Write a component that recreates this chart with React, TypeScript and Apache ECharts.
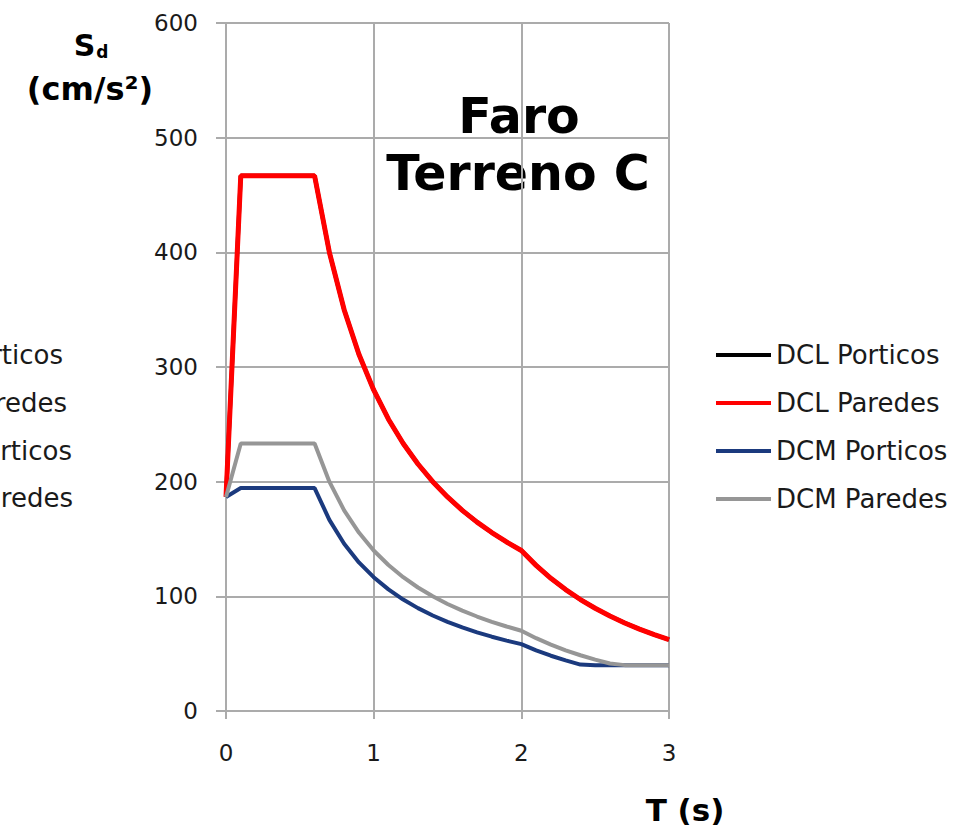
import React, { useEffect, useRef } from "react";
import * as echarts from "echarts";

// Period T (s)
const periods = [0, 0.1, 0.2, 0.3, 0.4, 0.5, 0.6, 0.7, 0.8, 0.9, 1.0, 1.1, 1.2, 1.3, 1.4, 1.5, 1.6, 1.7, 1.8, 1.9, 2.0, 2.1, 2.2, 2.3, 2.4, 2.5, 2.6, 2.7, 2.8, 2.9, 3.0];

// Sd (cm/s²)
const dclPorticos = [186.7, 466.7, 466.7, 466.7, 466.7, 466.7, 466.7, 400.0, 350.0, 311.1, 280.0, 254.5, 233.3, 215.4, 200.0, 186.7, 175.0, 164.7, 155.6, 147.4, 140.0, 127.0, 115.7, 105.9, 97.2, 89.6, 82.8, 76.8, 71.4, 66.6, 62.2];
const dclParedes = [186.7, 466.7, 466.7, 466.7, 466.7, 466.7, 466.7, 400.0, 350.0, 311.1, 280.0, 254.5, 233.3, 215.4, 200.0, 186.7, 175.0, 164.7, 155.6, 147.4, 140.0, 127.0, 115.7, 105.9, 97.2, 89.6, 82.8, 76.8, 71.4, 66.6, 62.2];
const dcmPorticos = [186.7, 194.4, 194.4, 194.4, 194.4, 194.4, 194.4, 166.7, 145.8, 129.6, 116.7, 106.1, 97.2, 89.7, 83.3, 77.8, 72.9, 68.6, 64.8, 61.4, 58.3, 52.9, 48.2, 44.1, 40.5, 40, 40, 40, 40, 40, 40];
const dcmParedes = [186.7, 233.3, 233.3, 233.3, 233.3, 233.3, 233.3, 200.0, 175.0, 155.6, 140.0, 127.3, 116.7, 107.7, 100.0, 93.3, 87.5, 82.4, 77.8, 73.7, 70.0, 63.5, 57.9, 52.9, 48.6, 44.8, 41.4, 40, 40, 40, 40];

const seriesNames = ["DCL Porticos", "DCL Paredes", "DCM Porticos", "DCM Paredes"];
const xTicks = [0, 1, 2, 3];
const yMax = 600;

const FONT = "'DejaVu Sans', Verdana, sans-serif";

export default function App() {
  const ref = useRef<HTMLDivElement>(null);

  useEffect(() => {
    if (!ref.current) return;
    const chart = echarts.init(ref.current, undefined, { renderer: "svg" });
    const pair = (vals: number[]) => periods.map((t, i) => [t, vals[i]]);
    const gridColor = "#ABABAB";
    const legendFont = 26;

    const cutText = (name: string, x: number, y: number) => ({
      type: "text",
      x,
      y,
      style: { text: name, textAlign: "right", textVerticalAlign: "middle", fontSize: legendFont, fontFamily: FONT, fill: "#1a1a1a" },
    });

    chart.setOption({
      animation: false,
      backgroundColor: "#ffffff",
      grid: { left: 226, right: 302, top: 23, bottom: 118, containLabel: false },
      xAxis: {
        type: "value",
        min: xTicks[0],
        max: xTicks[xTicks.length - 1],
        interval: 1,
        axisLine: { show: true, lineStyle: { color: gridColor, width: 2 } },
        axisTick: { show: true, length: 8, lineStyle: { color: gridColor, width: 2 } },
        splitLine: { show: true, lineStyle: { color: gridColor, width: 2 } },
        axisLabel: { color: "#1a1a1a", fontSize: 23, fontFamily: FONT, margin: 30 },
      },
      yAxis: {
        type: "value",
        min: 0,
        max: yMax,
        interval: 100,
        axisLine: { show: true, lineStyle: { color: gridColor, width: 2 } },
        axisTick: { show: true, length: 10, lineStyle: { color: gridColor, width: 2 } },
        splitLine: { show: true, lineStyle: { color: gridColor, width: 2 } },
        axisLabel: { color: "#1a1a1a", fontSize: 23, fontFamily: FONT, margin: 28 },
      },
      legend: {
        orient: "vertical",
        left: 716,
        top: 342,
        padding: 0,
        icon: "rect",
        itemWidth: 55,
        itemHeight: 4,
        itemGap: 22,
        data: seriesNames,
        textStyle: { color: "#1a1a1a", fontSize: legendFont, fontFamily: FONT },
      },
      series: [
        { name: seriesNames[0], type: "line", data: pair(dclPorticos), symbol: "none", lineStyle: { color: "#000000", width: 4 }, itemStyle: { color: "#000000" } },
        { name: seriesNames[1], type: "line", data: pair(dclParedes), symbol: "none", lineStyle: { color: "#FF0000", width: 5 }, itemStyle: { color: "#FF0000" } },
        { name: seriesNames[2], type: "line", data: pair(dcmPorticos), symbol: "none", lineStyle: { color: "#1B3A7E", width: 4 }, itemStyle: { color: "#1B3A7E" } },
        { name: seriesNames[3], type: "line", data: pair(dcmParedes), symbol: "none", lineStyle: { color: "#969696", width: 4 }, itemStyle: { color: "#969696" } },
      ],
      graphic: [
        {
          type: "text",
          x: 519,
          y: 116,
          style: { text: "Faro", fontSize: 49, fontWeight: "bold", fontFamily: FONT, fill: "#000", textAlign: "center", textVerticalAlign: "middle" },
        },
        {
          type: "text",
          x: 518,
          y: 173,
          style: { text: "Terreno C", fontSize: 49, fontWeight: "bold", fontFamily: FONT, fill: "#000", textAlign: "center", textVerticalAlign: "middle" },
        },
        {
          type: "text",
          x: 91,
          y: 45,
          style: {
            text: "{s|S}{d|d}",
            textAlign: "center",
            textVerticalAlign: "middle",
            rich: {
              s: { fontSize: 30, fontWeight: "bold", fontFamily: FONT, fill: "#000" },
              d: { fontSize: 17, fontWeight: "bold", fontFamily: FONT, fill: "#000", padding: [14, 0, 0, 1] },
            },
          },
        },
        {
          type: "text",
          x: 90,
          y: 89,
          style: { text: "(cm/s²)", textAlign: "center", textVerticalAlign: "middle", fontSize: 32, fontWeight: "bold", fontFamily: FONT, fill: "#000" },
        },
        {
          type: "text",
          x: 685,
          y: 810,
          style: { text: "T (s)", textAlign: "center", textVerticalAlign: "middle", fontSize: 31, fontWeight: "bold", fontFamily: FONT, fill: "#000" },
        },
        cutText(seriesNames[0], 63, 355),
        cutText(seriesNames[1], 67, 403),
        cutText(seriesNames[2], 72, 451),
        cutText(seriesNames[3], 73, 498),
      ],
    });

    return () => chart.dispose();
  }, []);

  return (
    <div
      ref={ref}
      style={{ position: "absolute", left: 0, top: 0, width: 971, height: 829, background: "#fff" }}
    />
  );
}
